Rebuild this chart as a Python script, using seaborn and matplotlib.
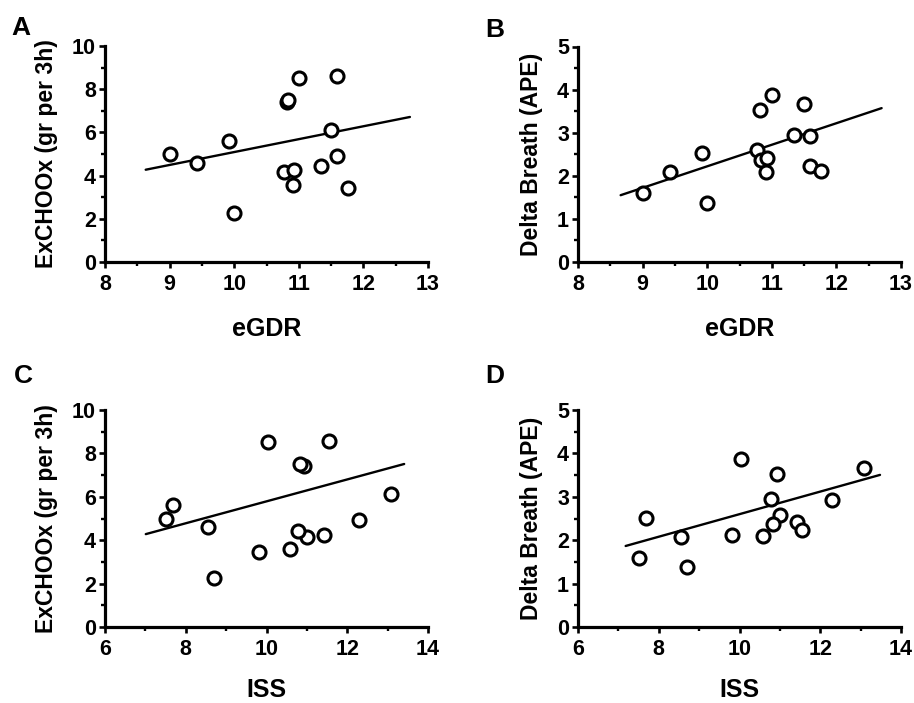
import matplotlib
matplotlib.use("Agg")
import matplotlib.pyplot as plt
import numpy as np
import pandas as pd
import seaborn as sns
from matplotlib.ticker import MultipleLocator

# Per-subject measurements (n = 15)
egdr = [9.00, 9.43, 9.92, 10.00, 10.77, 10.82, 10.84, 10.92, 10.91,
        11.01, 11.35, 11.50, 11.59, 11.59, 11.76]
iss = [7.50, 8.56, 7.69, 8.71, 11.00, 10.93, 10.83, 11.43, 10.59,
       10.04, 10.78, 13.08, 12.29, 11.54, 9.81]
exchoox = [5.00, 4.60, 5.62, 2.27, 4.15, 7.43, 7.49, 4.26, 3.58,
           8.52, 4.43, 6.11, 4.91, 8.59, 3.44]
delta_breath = [1.59, 2.08, 2.52, 1.38, 2.59, 3.53, 2.37, 2.42, 2.09,
                3.87, 2.94, 3.66, 2.92, 2.23, 2.11]

# Linear trend for each panel: slope, intercept and drawn x-span
fit_slope = [0.597, 0.500, 0.505, 0.260]
fit_intercept = [-0.88, -2.78, 0.74, 0.00]
fit_x_start = [8.63, 8.66, 7.01, 7.18]
fit_x_end = [12.72, 12.70, 13.41, 13.48]

panel_letters = ["A", "B", "C", "D"]
x_vars = ["eGDR", "eGDR", "ISS", "ISS"]
y_vars = ["ExCHOOx (gr per 3h)", "Delta Breath (APE)",
          "ExCHOOx (gr per 3h)", "Delta Breath (APE)"]

df = pd.DataFrame({
    "eGDR": egdr,
    "ISS": iss,
    "ExCHOOx (gr per 3h)": exchoox,
    "Delta Breath (APE)": delta_breath,
})

sns.set_theme(style="ticks")
plt.rcParams["font.family"] = ["Liberation Sans", "DejaVu Sans"]
plt.rcParams["font.weight"] = "bold"
plt.rcParams["axes.labelweight"] = "bold"
plt.rcParams["text.color"] = "black"
plt.rcParams["axes.labelcolor"] = "black"
plt.rcParams["xtick.color"] = "black"
plt.rcParams["ytick.color"] = "black"

W, H = 914, 703
fig = plt.figure(figsize=(W / 100, H / 100), dpi=100)


def px_rect(x0, x1, ytop, ybot):
    return [x0 / W, 1 - ybot / H, (x1 - x0) / W, (ybot - ytop) / H]


rects = [px_rect(105, 428, 46, 262), px_rect(578, 901, 46.5, 262),
         px_rect(105, 428, 410, 627), px_rect(578, 901, 410, 627)]
letter_pos = [(11, 35), (485, 37), (14, 383), (485, 383)]
xlabel_pad = [16, 16, 13, 13]

axis_lims = {
    "eGDR": ((8, 13), 1, 0.5),
    "ISS": ((6, 14), 2, 1),
    "ExCHOOx (gr per 3h)": ((0, 10), 2, 1),
    "Delta Breath (APE)": ((0, 5), 1, 0.5),
}

for i in range(4):
    ax = fig.add_axes(rects[i])
    xv, yv = x_vars[i], y_vars[i]

    xs = np.linspace(fit_x_start[i], fit_x_end[i], 2)
    trend = pd.DataFrame({"x": xs, "y": fit_intercept[i] + fit_slope[i] * xs})
    sns.lineplot(data=trend, x="x", y="y", ax=ax, color="black",
                 linewidth=1.7, zorder=2)

    sns.scatterplot(data=df, x=xv, y=yv, ax=ax, s=88, marker="o",
                    facecolor="white", edgecolor="black", linewidth=2.2,
                    zorder=3, clip_on=False)

    (x0, x1), xmaj, xmin = axis_lims[xv]
    (y0, y1), ymaj, ymin = axis_lims[yv]
    ax.set_xlim(x0, x1)
    ax.set_ylim(y0, y1)
    ax.xaxis.set_major_locator(MultipleLocator(xmaj))
    ax.xaxis.set_minor_locator(MultipleLocator(xmin))
    ax.yaxis.set_major_locator(MultipleLocator(ymaj))
    ax.yaxis.set_minor_locator(MultipleLocator(ymin))

    sns.despine(ax=ax)
    for side in ("left", "bottom"):
        ax.spines[side].set_linewidth(2.3)
        ax.spines[side].set_color("black")
        ax.spines[side].set_capstyle("projecting")

    ax.tick_params(axis="both", which="major", length=4.5, width=1.9,
                   color="black", labelsize=15.5, labelcolor="black")
    ax.tick_params(axis="both", which="minor", length=3, width=1.7,
                   color="black")
    ax.tick_params(axis="x", which="major", pad=4)
    ax.tick_params(axis="y", which="major", pad=2)
    for lab in ax.get_xticklabels() + ax.get_yticklabels():
        lab.set_fontweight("bold")

    ax.set_xlabel(xv, fontsize=18, fontweight="bold", labelpad=xlabel_pad[i],
                  color="black")
    ax.set_ylabel(yv, fontsize=16.5, fontweight="bold", labelpad=10,
                  color="black")

    lx, ly = letter_pos[i]
    fig.text(lx / W, 1 - ly / H, panel_letters[i], fontsize=19,
             fontweight="bold", ha="left", va="baseline", color="black")

fig.savefig("out.png", dpi=100, facecolor="white")
